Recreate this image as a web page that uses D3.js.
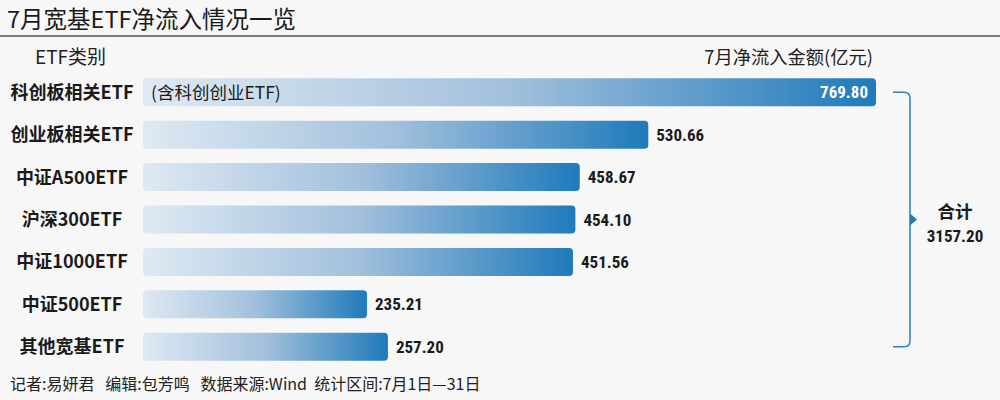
<!DOCTYPE html>
<html><head><meta charset="utf-8">
<script src="https://cdn.jsdelivr.net/npm/d3@7"></script>
<style>
html,body{margin:0;padding:0;background:#f7f7f7;}
svg{display:block;}
</style></head>
<body>
<svg id="c" width="1000" height="400"></svg>
<script>
const categories = ["科创板相关ETF","创业板相关ETF","中证A500ETF","沪深300ETF","中证1000ETF","中证500ETF","其他宽基ETF"];
const values = [769.80,530.66,458.67,454.10,451.56,235.21,257.20];
const valueLabels = ["769.80","530.66","458.67","454.10","451.56","235.21","257.20"];
const totalLabel = "3157.20";
const title = "7月宽基ETF净流入情况一览";
const footer = "记者:易妍君   编辑:包芳鸣   数据来源:Wind  统计区间:7月1日—31日";

const svg = d3.select("#c");
const cjk = "'Noto Sans CJK SC','Noto Sans',sans-serif";
const narrow = "'Liberation Sans Narrow','Roboto Condensed','Liberation Sans',sans-serif";

svg.append("rect").attr("width",1000).attr("height",400).attr("fill","#f7f7f7");

const defs = svg.append("defs");
const g = defs.append("linearGradient").attr("id","bg").attr("x1","0%").attr("x2","100%");
g.append("stop").attr("offset","0%").attr("stop-color","#dee9f3");
g.append("stop").attr("offset","50%").attr("stop-color","#a2c0dc");
g.append("stop").attr("offset","100%").attr("stop-color","#1f7abb");

svg.append("text").attr("x",7).attr("y",28).attr("font-family",cjk).attr("font-size",23.5)
  .attr("fill","#1a1a1a").text(title);
svg.append("line").attr("x1",0).attr("x2",1000).attr("y1",36).attr("y2",36)
  .attr("stroke","#555").attr("stroke-width",1.5);

svg.append("text").attr("x",35).attr("y",64).attr("font-family",cjk).attr("font-size",19)
  .attr("fill","#222").text("ETF类别");
svg.append("text").attr("x",873).attr("y",64).attr("text-anchor","end").attr("font-family",cjk).attr("font-size",18.3)
  .attr("fill","#222").text("7月净流入金额(亿元)");

const x = d3.scaleLinear().domain([0,769.80]).range([143,876]);
const y = d3.scaleBand().domain(categories).range([71,368]).paddingInner(0.34).paddingOuter(0.17);

const rows = svg.append("g").selectAll("g").data(categories).join("g");
rows.append("rect")
  .attr("x",x(0)).attr("y",d=>y(d)).attr("height",y.bandwidth())
  .attr("width",(d,i)=>x(values[i])-x(0)).attr("rx",4).attr("fill","url(#bg)");
rows.append("text").attr("x",72).attr("y",d=>y(d)+y.bandwidth()/2).attr("dy","0.36em")
  .attr("text-anchor","middle").attr("font-family",cjk).attr("font-weight","bold").attr("font-size",18)
  .attr("fill","#1a1a1a").text(d=>d);
rows.append("text")
  .attr("x",(d,i)=> i===0 ? x(values[i])-8 : x(values[i])+8)
  .attr("text-anchor",(d,i)=> i===0 ? "end":"start")
  .attr("y",d=>y(d)+y.bandwidth()/2).attr("dy","0.36em")
  .attr("font-family",narrow).attr("font-weight","bold").attr("font-size",17)
  .attr("fill",(d,i)=> i===0 ? "#fff":"#1a1a1a").text((d,i)=>valueLabels[i]);

svg.append("text").attr("x",151).attr("y",y(categories[0])+y.bandwidth()/2).attr("dy","0.36em")
  .attr("font-family",cjk).attr("font-size",17.5).attr("fill","#1a1a1a").text("(含科创创业ETF)");

// bracket
const yTop = y(categories[0])+y.bandwidth()/2;
const yBot = y(categories[categories.length-1])+y.bandwidth()/2;
const bx = 910, r = 6;
svg.append("path").attr("fill","none").attr("stroke","#2f7fba").attr("stroke-width",1.5)
  .attr("d",`M893,${yTop} L${bx-r},${yTop} Q${bx},${yTop} ${bx},${yTop+r} L${bx},${yBot-r} Q${bx},${yBot} ${bx-r},${yBot} L893,${yBot}`);
const ym = (yTop+yBot)/2;
svg.append("path").attr("fill","#1f7abb")
  .attr("d",`M${bx},${ym-6} L${bx+7},${ym} L${bx},${ym+6} Z`);
svg.append("text").attr("x",955).attr("y",ym-2).attr("text-anchor","middle").attr("font-family",cjk)
  .attr("font-weight","bold").attr("font-size",17.5).attr("fill","#1a1a1a").text("合计");
svg.append("text").attr("x",955).attr("y",ym+22).attr("text-anchor","middle").attr("font-family",narrow)
  .attr("font-weight","bold").attr("font-size",17).attr("fill","#1a1a1a").text(totalLabel);

svg.append("text").attr("x",10).attr("y",390).attr("font-family",cjk).attr("font-size",16)
  .attr("fill","#222").attr("xml:space","preserve").style("white-space","pre").text(footer);
</script>
</body></html>
